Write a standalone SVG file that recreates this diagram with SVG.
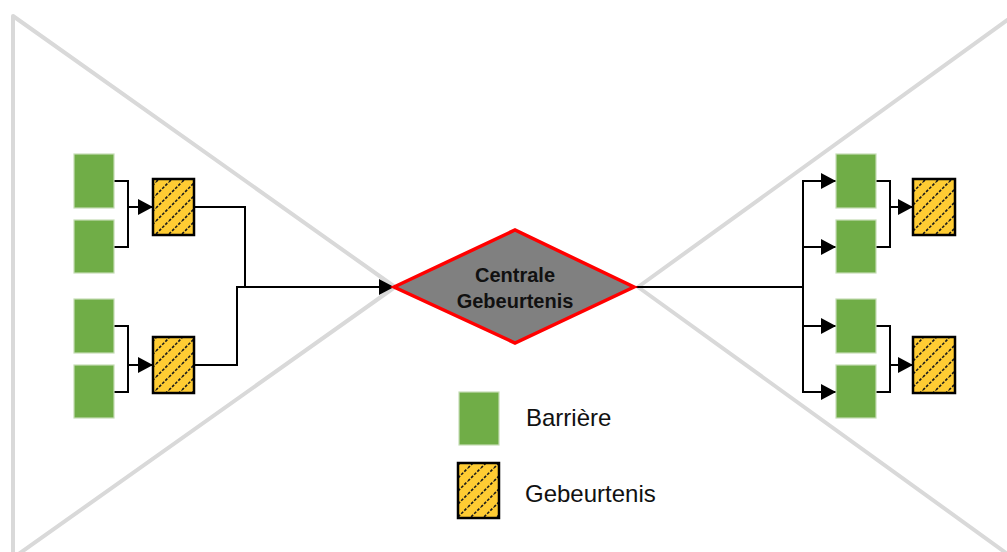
<svg xmlns="http://www.w3.org/2000/svg" width="1007" height="552" viewBox="0 0 1007 552">
  <defs>
    <style>
      .bowtie { fill: none; stroke: #D9D9D9; stroke-width: 4; stroke-linejoin: round; }
      .barrier { fill: #70AD47; stroke: #C5DDB5; stroke-width: 1.2; }
      .event { fill: url(#hatch); stroke: #000; stroke-width: 2.5; }
      .wire { fill: none; stroke: #000; stroke-width: 2; }
      .arrow { fill: none; stroke: #000; stroke-width: 2; marker-end: url(#head); }
      .center-label { font-family: "Liberation Sans", Arial, sans-serif; font-weight: bold; font-size: 20px; fill: #111; text-anchor: middle; }
      .legend-label { font-family: "Liberation Sans", Arial, sans-serif; font-size: 24px; fill: #111; }
    </style>
    <pattern id="hatch" patternUnits="userSpaceOnUse" width="13" height="13">
      <rect width="13" height="13" fill="#FFCC33"/>
      <path d="M-2,2 L2,-2 M0,13 L13,0 M11,15 L15,11" stroke="#1A1A1A" stroke-width="1.6" stroke-dasharray="2.8 1.6"/>
    </pattern>
    <marker id="head" viewBox="0 0 15 16" refX="15" refY="8" markerWidth="15" markerHeight="16" markerUnits="userSpaceOnUse" orient="auto">
      <path d="M0,0 L15,8 L0,16 Z" fill="#000"/>
    </marker>
  </defs>

  <rect width="1007" height="552" fill="#FFFFFF"/>

  <!-- bow-tie outline -->
  <g id="bowtie-outline">
    <polyline class="bowtie" points="13,562 13,16 395,287 13,558"/>
    <polyline class="bowtie" points="1013,562 1013,16 638,287 1013,558"/>
  </g>

  <!-- connectors -->
  <g id="connectors">
    <!-- left: barriers to events -->
    <polyline class="wire" points="114,181 128,181 128,247 114,247"/>
    <line class="arrow" x1="128" y1="207" x2="153" y2="207"/>
    <polyline class="wire" points="114,326 128,326 128,392 114,392"/>
    <line class="arrow" x1="128" y1="365" x2="153" y2="365"/>
    <!-- left: events to central event -->
    <polyline class="wire" points="194,207 245,207 245,287"/>
    <polyline class="wire" points="194,365 237,365 237,287"/>
    <line class="arrow" x1="236" y1="287" x2="394" y2="287"/>
    <!-- right: central event to barriers -->
    <polyline class="wire" points="633,287 803,287"/>
    <line class="wire" x1="803" y1="180" x2="803" y2="393"/>
    <line class="arrow" x1="802" y1="181" x2="836" y2="181"/>
    <line class="arrow" x1="802" y1="247" x2="836" y2="247"/>
    <line class="arrow" x1="802" y1="326" x2="836" y2="326"/>
    <line class="arrow" x1="802" y1="392" x2="836" y2="392"/>
    <!-- right: barriers to events -->
    <polyline class="wire" points="876,181 890,181 890,247 876,247"/>
    <line class="arrow" x1="890" y1="207" x2="913" y2="207"/>
    <polyline class="wire" points="876,326 890,326 890,392 876,392"/>
    <line class="arrow" x1="890" y1="365" x2="913" y2="365"/>
  </g>

  <!-- left side -->
  <g id="barrier-l1"><rect class="barrier" x="74" y="154" width="40" height="54"/></g>
  <g id="barrier-l2"><rect class="barrier" x="74" y="220" width="40" height="53"/></g>
  <g id="barrier-l3"><rect class="barrier" x="74" y="299" width="40" height="54"/></g>
  <g id="barrier-l4"><rect class="barrier" x="74" y="365" width="40" height="53"/></g>
  <g id="event-l1"><rect class="event" x="153" y="179" width="41" height="56"/></g>
  <g id="event-l2"><rect class="event" x="153" y="337" width="41" height="56"/></g>

  <!-- central event -->
  <g id="central-event">
    <polygon points="394,287 515,230 634,287 515,343" fill="#808080" stroke="#FF0000" stroke-width="3.5" stroke-linejoin="miter"/>
    <text class="center-label" x="515" y="282">Centrale</text>
    <text class="center-label" x="515" y="308">Gebeurtenis</text>
  </g>

  <!-- right side -->
  <g id="barrier-r1"><rect class="barrier" x="836" y="154" width="40" height="54"/></g>
  <g id="barrier-r2"><rect class="barrier" x="836" y="220" width="40" height="53"/></g>
  <g id="barrier-r3"><rect class="barrier" x="836" y="299" width="40" height="54"/></g>
  <g id="barrier-r4"><rect class="barrier" x="836" y="365" width="40" height="53"/></g>
  <g id="event-r1"><rect class="event" x="913" y="179" width="42" height="56"/></g>
  <g id="event-r2"><rect class="event" x="913" y="337" width="42" height="56"/></g>

  <!-- legend -->
  <g id="legend">
    <rect class="barrier" x="459" y="392" width="40" height="53"/>
    <text class="legend-label" x="526" y="426">Barrière</text>
    <rect class="event" x="458" y="463" width="41" height="55"/>
    <text class="legend-label" x="525" y="502">Gebeurtenis</text>
  </g>
</svg>
